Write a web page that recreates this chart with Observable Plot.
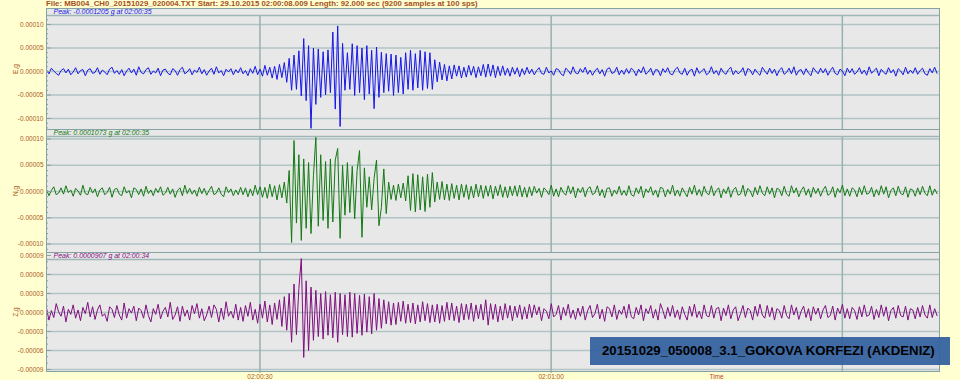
<!DOCTYPE html>
<html><head><meta charset="utf-8">
<script src="https://cdn.jsdelivr.net/npm/d3@7"></script>
<script src="https://cdn.jsdelivr.net/npm/@observablehq/plot@0.6"></script>
<style>
html,body{margin:0;padding:0;background:#ffffd2;}
#wrap{position:relative;width:960px;height:380px;overflow:hidden;background:#ffffd2;font-family:"Liberation Sans",Arial,sans-serif;}
.panel{position:absolute;left:0;}
#title{position:absolute;left:46px;top:0px;font-size:7.8px;font-weight:bold;color:#a4501c;white-space:nowrap;line-height:8px;}
#badge{position:absolute;left:590px;top:337px;width:360px;height:28px;background:rgba(50,96,158,0.93);color:#000;font-weight:bold;font-size:13.2px;line-height:28px;padding-left:12px;box-sizing:border-box;white-space:nowrap;}
</style></head>
<body><div id="wrap"><div id="title"></div><div id="badge"></div></div>
<script>
const fileInfo = "File: MB004_CH0_20151029_020004.TXT  Start: 29.10.2015 02:00:08.009 Length: 92.000 sec (9200 samples at 100 sps)";
const stationTitle = "20151029_050008_3.1_GOKOVA KORFEZI (AKDENIZ)";
const channelNames = ["E,g", "N,g", "Z,g"];
const peakLabels = ["Peak: -0.0001205 g at 02:00:35", "Peak: 0.0001073 g at 02:00:35", "Peak: 0.0000907 g at 02:00:34"];
const traceColors = ["#1616e8", "#137a13", "#7f0f7f"];
const startMs = Date.UTC(2015, 9, 29, 2, 0, 8, 9);
const lengthSec = 92;
const stepSec = 0.25; // spacing of the values
const xTickLabels = ["02:00:30", "02:01:00"];
const xGridTimes = ["02:00:30", "02:01:00", "02:01:30"];
const yTicksEN = [-100, -50, 0, 50, 100];   // micro-g
const yTicksZ = [-90, -60, -30, 0, 30, 60, 90];

// traces in micro-g (1e-6 g), one value per 0.25 s
const traceE = [
3,-5,7,1,-4,-8,2,6,-3,5,-7,-1,8,-5,2,4,-9,3,6,-4,
-2,8,-6,3,-1,-7,5,9,-4,2,-6,4,-9,1,7,-3,5,-8,10,-2,
-5,4,8,-6,1,-3,7,-9,3,5,-4,-7,6,2,-8,4,9,-5,-1,6,
-7,3,-2,9,-5,4,-8,1,7,-6,10,-3,2,-9,5,-1,6,-7,4,-3,
8,-5,2,-9,6,-4,11,-7,5,-10,13,-8,9,-14,11,-17,15,-13,19,-23,
28,-40,35,-38,44,-52,70,-62,55,-121,50,-70,48,-55,42,-50,46,-45,84,-80,
97,-117,60,-40,40,-38,59,-51,55,-45,50,-60,55,-48,45,-79,52,-55,41,-45,
38,-42,37,-51,35,-45,30,-48,40,-38,45,-40,38,-35,45,-40,42,-36,40,-38,
25,-22,20,-18,15,-20,12,-16,14,-10,12,-14,9,-12,13,-8,11,-13,10,-9,
15,-12,16,-10,14,-13,11,-9,12,-8,7,-10,9,-6,8,-11,6,-7,9,-5,
5,-7,2,8,-4,-6,9,-3,1,-8,6,4,-5,-9,7,2,-6,10,-3,-5,
6,-2,9,-6,3,-8,1,7,-5,4,-10,5,8,-4,-2,9,-7,3,-6,6,
-4,7,2,-9,5,-3,10,-6,-1,7,-8,4,3,-9,6,-2,8,-5,-7,4,
9,-3,-6,7,-8,2,5,-10,8,-4,1,6,-7,-3,10,-5,2,-8,7,-2,
-6,4,9,-7,2,-5,-1,8,-9,6,3,-7,5,-3,-8,9,1,-6,7,-4,
5,-9,3,8,-6,-2,7,-5,10,-8,2,4,-7,6,-3,-9,8,1,-5,7,
-3,6,-8,2,9,-4,-7,5,1,-9,7,-3,6,-6,-1,8,-5,3,-8,10,
-4,2,7,-9,5,-2,-6,8,-3,4,-10,6,1,-7,9,-5,3,-4,8,-6,
2,7,-5,-8,6,-3,9,-4
];
const traceN = [
4,-8,2,9,-6,-3,7,-5,11,-2,3,-9,6,1,-7,12,-4,-6,8,-3,
5,-10,3,7,-6,-2,8,-11,4,6,-5,-8,9,-3,2,-12,7,4,-6,5,
-9,10,-4,3,-8,6,-2,9,-7,-3,8,-5,5,-11,2,7,-8,12,-4,6,
-5,3,-9,8,-4,6,-7,2,10,-6,-3,7,-5,-10,9,-2,5,-8,3,-6,
8,-6,7,-10,5,-8,12,-6,9,-11,8,-13,14,-10,11,-16,13,-12,18,-22,
40,-97,97,-60,70,-93,62,-70,55,-80,30,103,-66,70,-55,57,-70,62,-58,60,
82,-89,50,-45,55,-40,48,-52,40,78,-87,45,-30,28,-35,25,60,-65,-30,43,
-42,18,-15,12,-17,14,-12,16,-18,30,-36,34,-39,32,-35,28,-38,33,-30,36,
-20,18,-15,19,-16,14,-17,15,-13,12,-16,14,-11,13,-15,10,-12,14,-10,12,
-13,11,-9,12,-14,10,-8,13,-11,9,-12,10,-8,11,-9,12,-10,8,-11,9,
-8,10,-3,6,-11,7,2,-6,12,-9,5,-10,8,-2,-7,11,-4,9,-12,6,
-2,8,-10,5,9,-6,-3,11,-8,4,-12,6,7,-9,3,-5,10,-7,2,-8,
11,-6,-9,7,-4,10,-12,5,-2,9,-7,3,-11,8,6,-10,4,-5,12,-8,
3,-9,7,-2,-10,8,-5,12,-7,4,-9,10,-3,-6,11,-8,2,7,-12,5,
-4,9,-11,3,8,-7,-5,12,-9,6,1,-10,8,-6,11,-3,-8,9,-5,7,
-12,6,4,-8,10,-5,-9,11,-3,7,-10,2,9,-7,5,-11,8,-4,6,-9,
3,10,-7,-4,9,-11,6,-2,12,-8,5,-9,7,3,-10,8,-6,11,-5,-3,
8,-10,4,-7,11,-5,9,-12,2,7,-8,10,-4,-6,9,-11,5,3,-9,7,
-6,10,-3,-8,11,-7,5,-4
];
const traceZ = [
7,-12,3,-8,14,1,-6,10,-15,5,-3,12,-9,4,-13,8,-2,16,-7,9,
-11,4,12,-6,-2,-14,9,5,-8,11,-4,-12,15,-9,6,-1,10,-13,7,3,
-9,12,-5,-15,6,-3,13,-10,2,8,-7,16,-11,-4,9,-14,10,-6,4,-12,
11,-2,14,-9,6,-13,-4,10,-8,12,5,-15,7,-11,17,-6,2,-9,13,-12,
8,-14,11,-6,16,-12,5,-17,13,-9,18,-15,12,-19,15,-11,20,-22,25,-28,
30,-47,45,-35,38,85,-71,50,-60,40,-44,35,-38,30,-42,33,-36,28,-40,32,
-47,30,-35,28,-38,32,-39,30,-33,27,-36,29,-31,25,-34,30,-28,22,-25,20,
-18,17,-20,15,-19,16,-14,18,-17,13,-16,15,-18,12,-15,17,-13,14,-16,12,
-15,13,-17,11,-14,16,-12,15,-13,10,-16,14,-12,13,-11,15,-14,12,-10,13,
-12,20,-20,14,-11,13,-15,10,-12,14,-9,11,-13,10,-8,12,-11,9,-10,13,
-8,12,-4,9,-13,6,2,-10,14,-7,-3,11,-12,8,-5,13,-9,4,-11,7,
-6,10,-12,3,11,-8,-2,13,-10,5,-14,9,6,-7,12,-11,4,-3,10,-9,
13,-7,-10,8,-4,12,-13,6,-2,11,-9,5,-12,14,3,-10,8,-6,11,-8,
4,-11,9,-3,-12,10,-6,13,-8,2,-10,12,-5,-7,11,-9,6,8,-13,7,
-5,12,-10,4,9,-13,-2,11,-8,7,3,-12,10,-6,13,-4,-9,11,-7,8,
-12,6,3,-9,11,-5,-10,12,-4,8,-11,2,10,-8,6,-13,9,-3,7,-10,
4,11,-8,-5,10,-12,7,-2,13,-9,6,-10,8,3,-11,9,-7,12,-6,-4,
10,-11,5,-8,12,-6,9,-13,3,8,-9,11,-5,-7,10,-12,6,4,-10,8,
-7,11,-4,-9,12,-8,6,-5
];

document.getElementById("title").textContent = fileInfo;
document.getElementById("badge").textContent = stationTitle;

const hms = s => { const [h, m, sec] = s.split(":").map(Number); return new Date(Date.UTC(2015, 9, 29, h, m, sec)); };
const tStart = new Date(startMs), tEnd = new Date(startMs + lengthSec * 1000);
const bg = "#e8e8e8", gridColor = "#b2c3c4", frameColor = "#86a3a3", textColor = "#ad5a26";

const panels = [
  {values: traceE, ticks: yTicksEN, top: 8, height: 121, mb: 0, domain: [-123.4, 134], row: 119},
  {values: traceN, ticks: yTicksEN, top: 129, height: 123, mb: 0, domain: [-116, 118], row: 104.8},
  {values: traceZ, ticks: yTicksZ, top: 252, height: 128, mb: 9, domain: [-93.2, 94.7], row: 83.7}
];

panels.forEach((cfg, i) => {
  const data = cfg.values.map((v, k) => ({t: new Date(startMs + k * stepSec * 1000), v}));
  const minors = d3.range(Math.ceil(cfg.domain[0] / 10) * 10, cfg.row, 10).filter(d => !cfg.ticks.includes(d));
  const last = i === 2;
  const marks = [
    Plot.frame({fill: bg}),
    Plot.ruleY(cfg.ticks, {stroke: gridColor, strokeWidth: 1.5}),
    Plot.ruleX(xGridTimes.map(hms), {y1: cfg.domain[0], y2: cfg.row, stroke: "#98b0b0", strokeWidth: 1.5}),
    Plot.rect([0], {x1: () => tStart, x2: () => tEnd, y1: () => cfg.row, y2: () => cfg.domain[1], fill: bg}),
    Plot.ruleY([cfg.row], {stroke: "#9fb6b6", strokeWidth: 1.5}),
    Plot.line(data, {x: "t", y: "v", stroke: traceColors[i], strokeWidth: 1, clip: true}),
    Plot.frame({stroke: frameColor}),
    Plot.axisY(cfg.ticks, {tickSize: 0, tickPadding: 3, fontSize: 6.5, fill: textColor,
      tickFormat: d => (d / 1e6).toFixed(5), label: channelNames[i], labelAnchor: "center", labelOffset: 33, labelArrow: "none"}),
    Plot.axisY(cfg.ticks, {tickSize: -5, stroke: frameColor, tickFormat: () => "", label: null}),
    Plot.axisY(minors, {tickSize: -2, stroke: frameColor, tickFormat: () => "", label: null}),
    Plot.text([peakLabels[i]], {frameAnchor: "top-left", dx: 7, dy: 0.5, lineAnchor: "top", textAnchor: "start",
      fontSize: 7, fontStyle: "italic", fill: traceColors[i]})
  ];
  if (last) {
    marks.push(Plot.axisX(xTickLabels.map(hms), {tickSize: 2, tickPadding: 1, fontSize: 6.5, fill: textColor, stroke: frameColor,
      tickFormat: d3.utcFormat("%H:%M:%S"), label: null}));
    marks.push(Plot.text(["Time"], {frameAnchor: "bottom-right", dx: -223, dy: 3, lineAnchor: "top", textAnchor: "middle", fontSize: 6.5, fill: "#c0402a"}));
  }
  const chart = Plot.plot({
    width: 960, height: cfg.height,
    marginLeft: 46, marginRight: 21, marginTop: 0, marginBottom: cfg.mb,
    style: {background: "transparent", color: textColor, fontFamily: "Liberation Sans, Arial, sans-serif", overflow: "visible"},
    x: {type: "utc", domain: [tStart, tEnd], axis: last ? undefined : null},
    y: {domain: cfg.domain, nice: false},
    marks
  });
  chart.classList.add("panel");
  chart.style.top = cfg.top + "px";
  chart.style.position = "absolute";
  document.getElementById("wrap").insertBefore(chart, document.getElementById("badge"));
});
</script>
</body></html>
